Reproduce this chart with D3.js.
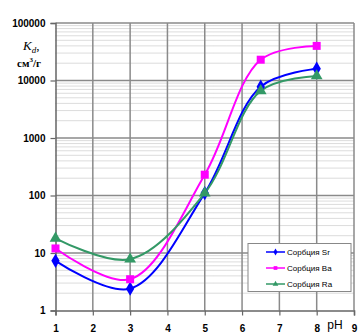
<!DOCTYPE html>
<html><head><meta charset="utf-8">
<script src="https://cdn.jsdelivr.net/npm/d3@7"></script>
<style>body{margin:0;background:#fff}</style>
</head><body>
<script>
const xs = [1, 3, 5, 6.5, 8];
const sr = [7.3, 2.4, 110, 7800, 16000];
const ba = [12, 3.5, 230, 23000, 40000];
const ra = [18, 7.8, 110, 6600, 12000];
const seriesNames = ["Сорбция Sr", "Сорбция Ba", "Сорбция Ra"];
const seriesColors = ["#0000ff", "#ff00ff", "#339966"];
const seriesShapes = [d3.symbolDiamond, d3.symbolSquare, d3.symbolTriangle];
const xTicks = [1, 2, 3, 4, 5, 6, 7, 8, 9];
const yTicks = [1, 10, 100, 1000, 10000, 100000];

const W = 363, H = 336;
const svg = d3.select("body").append("svg").attr("width", W).attr("height", H);
const x = d3.scaleLinear().domain([1, 9]).range([55.5, 354]);
const y = d3.scaleLog().domain([1, 100000]).range([310.5, 23]);

// minor gridlines
const minor = [];
for (let e = 0; e < 5; e++) for (let k = 2; k <= 9; k++) minor.push(k * Math.pow(10, e));
svg.append("g").selectAll("line").data(minor).join("line")
  .attr("x1", x(1)).attr("x2", x(9)).attr("y1", d => y(d)).attr("y2", d => y(d))
  .attr("stroke", "#b8b8b8").attr("stroke-width", 1).attr("stroke-dasharray", "1,1");
// major gridlines
svg.append("g").selectAll("line").data(yTicks.slice(1)).join("line")
  .attr("x1", x(1)).attr("x2", x(9)).attr("y1", d => y(d)).attr("y2", d => y(d))
  .attr("stroke", "#8a8a8a").attr("stroke-width", 1.5);
svg.append("g").selectAll("line").data(xTicks.slice(1)).join("line")
  .attr("x1", d => x(d)).attr("x2", d => x(d)).attr("y1", y(1)).attr("y2", y(100000))
  .attr("stroke", "#8a8a8a").attr("stroke-width", 1.5);

// axes
const xAxis = svg.append("g").attr("transform", `translate(0,${y(1)})`)
  .call(d3.axisBottom(x).tickValues(xTicks).tickSize(5).tickFormat(d => d === 9 ? "9" : d));
const yAxis = svg.append("g").attr("transform", `translate(${x(1)},0)`)
  .call(d3.axisLeft(y).tickValues(yTicks).tickSize(5).tickFormat(d3.format("d")));
[xAxis, yAxis].forEach(a => {
  a.select(".domain").attr("stroke", "#666").attr("stroke-width", 1.5);
  a.selectAll(".tick line").attr("stroke", "#666").attr("stroke-width", 1.2);
  a.selectAll("text").attr("font-family", "Liberation Sans, Arial, sans-serif")
    .attr("font-weight", "bold").attr("font-size", 10).attr("fill", "#000");
});
xAxis.selectAll("text").attr("dy", "1.35em");
yAxis.selectAll("text").attr("dx", "-2px");

// pH label
svg.append("text").attr("x", 335).attr("y", 329).attr("text-anchor", "middle")
  .attr("font-family", "Liberation Sans, Arial, sans-serif").attr("font-size", 12)
  .text("pH");

// y axis title
const t1 = svg.append("text").attr("x", 23).attr("y", 50)
  .attr("font-family", "Liberation Serif, Times New Roman, serif").attr("font-size", 13);
t1.append("tspan").attr("font-style", "italic").text("K");
t1.append("tspan").attr("font-style", "italic").attr("font-size", 9).attr("dy", 3).text("d");
t1.append("tspan").attr("dy", -3).text(",");
const t2 = svg.append("text").attr("x", 17).attr("y", 67)
  .attr("font-family", "Liberation Serif, Times New Roman, serif").attr("font-size", 11).attr("font-weight", "bold");
t2.append("tspan").text("см");
t2.append("tspan").attr("font-size", 7).attr("dy", -5).text("3");
t2.append("tspan").attr("dy", 5).text("/г");

// series
const allSeries = [sr, ba, ra];
const line = d3.line().x(d => x(d[0])).y(d => y(d[1])).curve(d3.curveCatmullRom.alpha(0.5));
allSeries.forEach((vals, i) => {
  const pts = xs.map((v, j) => [v, vals[j]]);
  svg.append("path").datum(pts).attr("d", line).attr("fill", "none")
    .attr("stroke", seriesColors[i]).attr("stroke-width", 2);
});
allSeries.forEach((vals, i) => {
  const pts = xs.map((v, j) => [v, vals[j]]);
  svg.append("g").selectAll("path").data(pts).join("path")
    .attr("transform", d => `translate(${x(d[0])},${y(d[1])})`)
    .attr("d", d3.symbol().type(seriesShapes[i]).size(i === 1 ? 64 : 60))
    .attr("fill", seriesColors[i]);
});

// legend
const lg = svg.append("g");
lg.append("rect").attr("x", 248).attr("y", 243.5).attr("width", 103).attr("height", 48)
  .attr("fill", "#fff").attr("stroke", "#888").attr("stroke-width", 1);
seriesNames.forEach((n, i) => {
  const yy = 252 + i * 16;
  lg.append("line").attr("x1", 266).attr("x2", 285).attr("y1", yy).attr("y2", yy)
    .attr("stroke", seriesColors[i]).attr("stroke-width", 1.5);
  lg.append("path").attr("transform", `translate(275.5,${yy})`)
    .attr("d", d3.symbol().type(seriesShapes[i]).size(14)).attr("fill", seriesColors[i]);
  lg.append("text").attr("x", 287).attr("y", yy + 3)
    .attr("font-family", "Liberation Sans, Arial, sans-serif").attr("font-size", 8).text(n);
});
</script>
</body></html>
